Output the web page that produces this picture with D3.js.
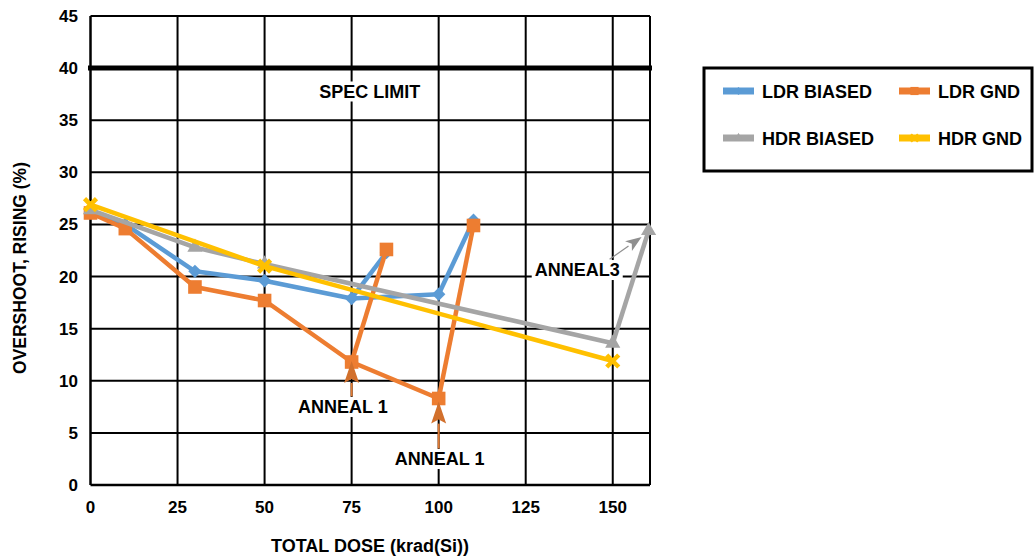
<!DOCTYPE html>
<html>
<head>
<meta charset="utf-8">
<script src="https://cdn.jsdelivr.net/npm/d3@7"></script>
<style>
  body { margin: 0; background: #fff; }
  text { font-family: "Liberation Sans", Arial, sans-serif; font-weight: bold; fill: #000; }
</style>
</head>
<body>
<div id="chart"></div>
<script>
// axis ticks
var xTicks = [0, 25, 50, 75, 100, 125, 150];
var yTicks = [0, 5, 10, 15, 20, 25, 30, 35, 40, 45];
var specLimit = 40;

// LDR BIASED
var ldrBiasedDose = [0, 10, 30, 50, 75, 100];
var ldrBiasedPct = [26.3, 25.0, 20.5, 19.6, 17.9, 18.3];
var ldrBiasedAnnealFrom = [75, 100];
var ldrBiasedAnnealDose = [85, 110];
var ldrBiasedAnnealPct = [22.3, 25.4];

// LDR GND
var ldrGndDose = [0, 10, 30, 50, 75, 100];
var ldrGndPct = [26.1, 24.6, 19.0, 17.7, 11.8, 8.3];
var ldrGndAnnealFrom = [75, 100];
var ldrGndAnnealDose = [85, 110];
var ldrGndAnnealPct = [22.6, 24.9];

// HDR BIASED
var hdrBiasedDose = [0, 30, 50, 150];
var hdrBiasedPct = [26.4, 22.8, 21.2, 13.6];
var hdrBiasedAnnealFrom = [150];
var hdrBiasedAnnealDose = [160.3];
var hdrBiasedAnnealPct = [24.4];

// HDR GND
var hdrGndDose = [0, 50, 150];
var hdrGndPct = [26.9, 21.0, 11.9];

var seriesNames = ["LDR BIASED", "LDR GND", "HDR BIASED", "HDR GND"];
var seriesColors = ["#5b9bd5", "#ed7d31", "#a5a5a5", "#ffc000"];

var series = [
  {dose: ldrBiasedDose, pct: ldrBiasedPct, from: ldrBiasedAnnealFrom, aDose: ldrBiasedAnnealDose, aPct: ldrBiasedAnnealPct, marker: "diamond"},
  {dose: ldrGndDose, pct: ldrGndPct, from: ldrGndAnnealFrom, aDose: ldrGndAnnealDose, aPct: ldrGndAnnealPct, marker: "square"},
  {dose: hdrBiasedDose, pct: hdrBiasedPct, from: hdrBiasedAnnealFrom, aDose: hdrBiasedAnnealDose, aPct: hdrBiasedAnnealPct, marker: "triangle"},
  {dose: hdrGndDose, pct: hdrGndPct, from: [], aDose: [], aPct: [], marker: "x"}
];
series.forEach(function(s, i) { s.name = seriesNames[i]; s.color = seriesColors[i]; });

var W = 1034, H = 559;
var plot = {left: 90.5, right: 650, top: 16, bottom: 485};

var x_scale = d3.scaleLinear().domain([0, 160.7]).range([plot.left, plot.right]);
var y_scale = d3.scaleLinear().domain([0, 45]).range([plot.bottom, plot.top]);

var svg = d3.select("#chart").append("svg")
    .attr("width", W)
    .attr("height", H);

// grid
svg.append("g").selectAll("line")
    .data(yTicks.slice(1))
  .enter().append("line")
    .attr("x1", plot.left).attr("x2", plot.right)
    .attr("y1", function(d) { return y_scale(d); })
    .attr("y2", function(d) { return y_scale(d); })
    .attr("stroke", "#000").attr("stroke-width", 2);

svg.append("g").selectAll("line")
    .data(xTicks.slice(1).concat([x_scale.domain()[1]]))
  .enter().append("line")
    .attr("x1", function(d) { return x_scale(d); })
    .attr("x2", function(d) { return x_scale(d); })
    .attr("y1", plot.top).attr("y2", plot.bottom)
    .attr("stroke", "#000").attr("stroke-width", 2);

// axes lines
svg.append("line")
    .attr("x1", plot.left).attr("x2", plot.left)
    .attr("y1", plot.top).attr("y2", plot.bottom)
    .attr("stroke", "#000").attr("stroke-width", 2.5);
svg.append("line")
    .attr("x1", plot.left).attr("x2", plot.right)
    .attr("y1", plot.bottom).attr("y2", plot.bottom)
    .attr("stroke", "#000").attr("stroke-width", 2.5);

// tick labels
svg.append("g").selectAll("text")
    .data(yTicks)
  .enter().append("text")
    .attr("x", 78)
    .attr("y", function(d) { return y_scale(d) + 6; })
    .attr("text-anchor", "end")
    .style("font-size", "17px")
    .text(function(d) { return d; });

svg.append("g").selectAll("text")
    .data(xTicks)
  .enter().append("text")
    .attr("x", function(d) { return x_scale(d); })
    .attr("y", 513)
    .attr("text-anchor", "middle")
    .style("font-size", "17px")
    .text(function(d) { return d; });

// axis titles
svg.append("text")
    .attr("x", 370).attr("y", 552)
    .attr("text-anchor", "middle")
    .style("font-size", "18px")
    .text("TOTAL DOSE (krad(Si))");

svg.append("text")
    .attr("transform", "translate(26,268) rotate(-90)")
    .attr("text-anchor", "middle")
    .style("font-size", "17.5px")
    .text("OVERSHOOT, RISING (%)");

// spec limit
svg.append("line")
    .attr("x1", plot.left - 2.5).attr("x2", plot.right + 2)
    .attr("y1", y_scale(specLimit)).attr("y2", y_scale(specLimit))
    .attr("stroke", "#000").attr("stroke-width", 5);

// text labels with white boxes behind them
function label(txt, dx, dy) {
  var g = svg.append("g");
  var bg = g.append("rect").attr("fill", "#fff");
  var t = g.append("text")
      .attr("x", x_scale(dx)).attr("y", y_scale(dy))
      .attr("text-anchor", "middle")
      .style("font-size", "18px")
      .text(txt);
  var bb = t.node().getBBox();
  bg.attr("x", bb.x - 3).attr("y", bb.y)
    .attr("width", bb.width + 6).attr("height", bb.height);
}

label("SPEC LIMIT", 80.2, 37.18);

var line = d3.line()
    .x(function(d) { return x_scale(d[0]); })
    .y(function(d) { return y_scale(d[1]); });

function markerPath(type) {
  if (type == "diamond") return d3.symbol().type(d3.symbolSquare).size(90)();
  if (type == "square") return d3.symbol().type(d3.symbolSquare).size(185)();
  if (type == "triangle") return d3.symbol().type(d3.symbolTriangle).size(100)();
  return "M-6,-6L6,6M-6,6L6,-6";
}

function drawMarker(g, type, color, px, py, scale) {
  var m = g.append("path")
      .attr("d", markerPath(type))
      .attr("transform", "translate(" + px + "," + py + ")" +
            (type == "diamond" ? " rotate(45)" : "") +
            (scale ? " scale(" + scale + ")" : ""));
  if (type == "x") {
    m.attr("fill", "none").attr("stroke", color).attr("stroke-width", 4.5);
  } else {
    m.attr("fill", color);
  }
}

series.forEach(function(s) {
  var g = svg.append("g");
  var pts = s.dose.map(function(d, i) { return [d, s.pct[i]]; });
  var anneal = s.from.map(function(f, i) {
    return [[f, s.pct[s.dose.indexOf(f)]], [s.aDose[i], s.aPct[i]]];
  });

  g.append("path")
      .datum(pts)
      .attr("fill", "none")
      .attr("stroke", s.color)
      .attr("stroke-width", 4.5)
      .attr("stroke-linejoin", "round")
      .attr("d", line);

  anneal.forEach(function(seg) {
    g.append("path")
        .datum(seg)
        .attr("fill", "none")
        .attr("stroke", s.color)
        .attr("stroke-width", 4.5)
        .attr("stroke-linejoin", "round")
        .attr("d", line);
  });

  pts.concat(anneal.map(function(seg) { return seg[1]; })).forEach(function(p) {
    drawMarker(g, s.marker, s.color, x_scale(p[0]), y_scale(p[1]));
  });
});

// annotation arrows
function arrow(x0, y0, x1, y1, color, headColor, lw, headLen, headW) {
  var a0 = [x_scale(x0), y_scale(y0)], a1 = [x_scale(x1), y_scale(y1)];
  var dx = a1[0] - a0[0], dy = a1[1] - a0[1];
  var len = Math.sqrt(dx * dx + dy * dy);
  var ux = dx / len, uy = dy / len;
  var bx = a1[0] - ux * headLen, by = a1[1] - uy * headLen;
  svg.append("line")
      .attr("x1", a0[0]).attr("y1", a0[1])
      .attr("x2", bx).attr("y2", by)
      .attr("stroke", color).attr("stroke-width", lw);
  svg.append("path")
      .attr("d", "M" + a1[0] + "," + a1[1] +
           "L" + (bx - uy * headW / 2) + "," + (by + ux * headW / 2) +
           "L" + (bx + ux * 4) + "," + (by + uy * 4) +
           "L" + (bx + uy * headW / 2) + "," + (by - ux * headW / 2) + "Z")
      .attr("fill", headColor);
}

arrow(75, 8.5, 75, 11.9, "#e07a33", "#d2702c", 2, 22, 15);
arrow(100, 3.5, 100, 8.0, "#e07a33", "#d2702c", 2, 22, 15);
arrow(149.1, 21.66, 158.3, 23.8, "#8f8f8f", "#8f8f8f", 1.2, 16, 12);

label("ANNEAL 1", 72.5, 6.91);
label("ANNEAL 1", 100.3, 1.92);
label("ANNEAL3", 139.8, 20.05);

// legend
var legend = svg.append("g");
legend.append("rect")
    .attr("x", 704).attr("y", 68)
    .attr("width", 328).attr("height", 103)
    .attr("fill", "#fff")
    .attr("stroke", "#000").attr("stroke-width", 3);

series.forEach(function(s, i) {
  var lx = 723 + (i % 2) * 176;
  var ly = i < 2 ? 91 : 138;
  legend.append("line")
      .attr("x1", lx).attr("x2", lx + 31)
      .attr("y1", ly).attr("y2", ly)
      .attr("stroke", s.color).attr("stroke-width", 7);
  drawMarker(legend, s.marker, s.color, lx + 15.5, ly, 0.6);
  legend.append("text")
      .attr("x", lx + 39).attr("y", ly + 6.5)
      .style("font-size", "18px")
      .text(s.name);
});
</script>
</body>
</html>
